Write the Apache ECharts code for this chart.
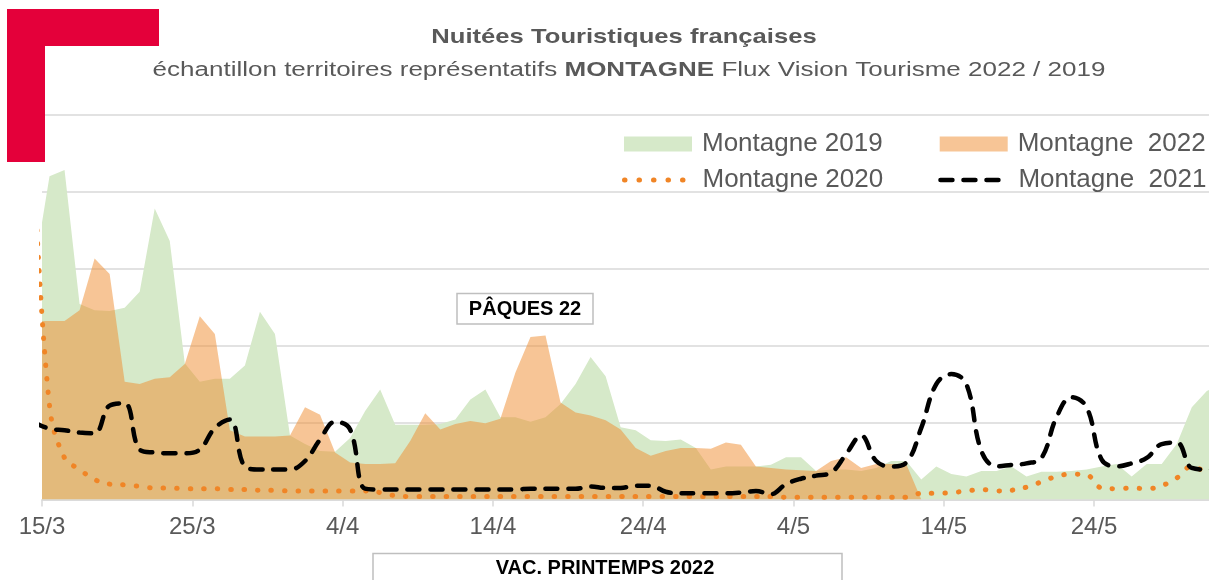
<!DOCTYPE html>
<html>
<head>
<meta charset="utf-8">
<script src="https://cdn.jsdelivr.net/npm/echarts@6/dist/echarts.min.js"></script>
<style>
  html, body { margin: 0; padding: 0; background: #fff; }
  #chart { width: 1209px; height: 580px; }
</style>
</head>
<body>
<div id="chart"></div>
<script>
// axis labels, one every 10 days starting 15/3
var tickLabels = ['15/3', '25/3', '4/4', '14/4', '24/4', '4/5', '14/5', '24/5'];

// daily values, 14/3 -> 1/6 (one point per day, plotted at midday)
var m2019 = [3.00, 4.20, 4.28, 2.54, 2.46, 2.45, 2.49, 2.70, 3.78, 3.36,
  1.77, 1.53, 1.57, 1.57, 1.74, 2.44, 2.15, 0.83, 0.72, 0.63,
  0.62, 0.80, 1.15, 1.43, 0.97, 0.97, 0.97, 0.98, 1.04, 1.30,
  1.43, 1.07, 1.07, 1.01, 1.07, 1.24, 1.50, 1.85, 1.60, 0.94,
  0.90, 0.77, 0.76, 0.78, 0.67, 0.39, 0.43, 0.43, 0.43, 0.45,
  0.55, 0.55, 0.37, 0.39, 0.39, 0.37, 0.41, 0.50, 0.50, 0.26,
  0.43, 0.33, 0.30, 0.37, 0.37, 0.43, 0.30, 0.36, 0.36, 0.37,
  0.39, 0.43, 0.46, 0.30, 0.46, 0.46, 0.72, 1.20, 1.41, 1.50];

var m2022 = [2.32, 2.32, 2.32, 2.46, 3.13, 2.93, 1.53, 1.50, 1.57, 1.59,
  1.76, 2.38, 2.15, 0.90, 0.82, 0.82, 0.82, 0.83, 1.20, 1.10,
  0.61, 0.48, 0.46, 0.46, 0.47, 0.76, 1.12, 0.91, 0.98, 1.02,
  0.99, 1.05, 1.65, 2.11, 2.13, 1.26, 1.13, 1.09, 1.03, 0.91,
  0.67, 0.57, 0.63, 0.67, 0.67, 0.66, 0.74, 0.71, 0.43, 0.41,
  0.39, 0.38, 0.37, 0.50, 0.55, 0.41, 0.46, 0.46, 0.46, 0,
  null, null, null, null, null, null, null, null, null, null,
  null, null, null, null, null, null, null, null, null, null];

var m2020 = [4.20, 1.22, 0.54, 0.39, 0.26, 0.20, 0.19, 0.17, 0.15, 0.15,
  0.14, 0.14, 0.14, 0.13, 0.13, 0.12, 0.12, 0.11, 0.11, 0.11,
  0.11, 0.11, 0.11, 0.09, 0.05, 0.04, 0.04, 0.04, 0.04, 0.04,
  0.04, 0.04, 0.04, 0.04, 0.04, 0.04, 0.04, 0.04, 0.04, 0.04,
  0.04, 0.04, 0.04, 0.04, 0.04, 0.04, 0.04, 0.04, 0.04, 0.04,
  0.03, 0.03, 0.03, 0.03, 0.03, 0.03, 0.03, 0.03, 0.03, 0.08,
  0.08, 0.09, 0.11, 0.13, 0.11, 0.12, 0.16, 0.23, 0.30, 0.33,
  0.32, 0.15, 0.14, 0.15, 0.14, 0.18, 0.28, 0.43, 0.37, 0.37];

var m2021 = [1.00, 0.92, 0.90, 0.87, 0.86, 1.22, 1.25, 0.65, 0.61, 0.60,
  0.60, 0.65, 0.93, 1.04, 0.43, 0.39, 0.39, 0.39, 0.50, 0.78,
  1.01, 0.91, 0.14, 0.13, 0.13, 0.13, 0.13, 0.13, 0.13, 0.13,
  0.13, 0.13, 0.13, 0.14, 0.14, 0.14, 0.14, 0.17, 0.15, 0.15,
  0.18, 0.18, 0.10, 0.08, 0.08, 0.08, 0.08, 0.09, 0.11, 0.07,
  0.20, 0.27, 0.31, 0.35, 0.59, 0.83, 0.50, 0.43, 0.48, 0.93,
  1.50, 1.63, 1.50, 0.63, 0.43, 0.45, 0.47, 0.54, 1.07, 1.33,
  1.20, 0.52, 0.43, 0.47, 0.54, 0.72, 0.74, 0.41, 0.39, 0.39];

var FONT = '"Liberation Sans", Arial, sans-serif';
var GREEN = '#d6e9c9';
var ORANGE = 'rgba(240,140,45,0.5)';
var DOTS = '#f08526';

// x = days since 15/3 00:00, points sit at midday
function pts(arr) {
  return arr.map(function (v, i) { return [i - 0.5, v]; });
}

var myChart = echarts.init(document.getElementById('chart'));

var option = {
  animation: false,
  grid: { left: 42, right: 0, top: 114.7, bottom: 80.5, outerBoundsMode: 'none' },
  legend: [
    {
      left: 624, top: 131, width: 600, padding: 0, orient: 'horizontal',
      itemWidth: 68, itemHeight: 15, itemGap: 57,
      textStyle: { fontFamily: FONT, fontSize: 26, color: '#595959', padding: [0, 0, 0, 5] },
      data: [
        { name: 'Montagne 2019', icon: 'rect', itemStyle: { borderWidth: 0 } },
        { name: 'Montagne  2022', icon: 'rect', itemStyle: { borderWidth: 0 } }
      ]
    },
    {
      left: 622, top: 167, width: 600, padding: 0, orient: 'horizontal',
      itemWidth: 62, itemHeight: 15, itemGap: 55,
      textStyle: { fontFamily: FONT, fontSize: 26, color: '#595959', padding: [0, 0, 0, 11] },
      data: [
        { name: 'Montagne 2020', itemStyle: { opacity: 0 },
          lineStyle: { color: DOTS, width: 5, type: [0.5, 14], cap: 'round' } },
        { name: 'Montagne  2021', itemStyle: { opacity: 0 },
          lineStyle: { color: '#000', width: 4.5, type: [12, 11], cap: 'round' } }
      ]
    }
  ],
  xAxis: {
    type: 'value',
    min: 0,
    max: 1167 / 15.03,
    interval: 10,
    axisLine: { lineStyle: { color: '#d9d9d9', width: 1.5 } },
    axisTick: {
      length: 7, lineStyle: { color: '#d9d9d9', width: 1.5 },
      customValues: tickLabels.map(function (_, i) { return i * 10; })
    },
    axisLabel: {
      margin: 16,
      fontFamily: FONT,
      fontSize: 24,
      color: '#595959',
      customValues: tickLabels.map(function (_, i) { return i * 10; }),
      formatter: function (v) { return tickLabels[Math.round(v / 10)] || ''; }
    },
    splitLine: { show: false }
  },
  yAxis: {
    type: 'value',
    min: 0,
    max: 5,
    interval: 1,
    axisLine: { show: false },
    axisTick: { show: false },
    axisLabel: { show: false },
    splitLine: { lineStyle: { color: '#d9d9d9', width: 1.5 } }
  },
  series: [
    {
      name: 'Montagne 2019', type: 'line', data: pts(m2019),
      color: GREEN, symbol: 'none', lineStyle: { width: 0 },
      areaStyle: { color: GREEN, opacity: 1 }
    },
    {
      name: 'Montagne  2022', type: 'line', data: pts(m2022),
      color: ORANGE, symbol: 'none', lineStyle: { width: 0 },
      areaStyle: { color: ORANGE, opacity: 1 }
    },
    {
      name: 'Montagne 2020', type: 'line', data: pts(m2020),
      color: DOTS, symbol: 'none', smooth: 0.4,
      lineStyle: { color: DOTS, width: 5, type: [0.5, 13], cap: 'round' }
    },
    {
      name: 'Montagne  2021', type: 'line', data: pts(m2021),
      color: '#000', symbol: 'none', smooth: 0.4,
      lineStyle: { color: '#000', width: 4.5, type: [12, 11], cap: 'round' }
    }
  ],
  graphic: [
    {
      type: 'polygon', z: 10,
      shape: { points: [[7, 9], [159, 9], [159, 46], [45, 46], [45, 162], [7, 162]] },
      style: { fill: '#e4003a' }
    },
    {
      type: 'text', x: 624, y: 37, scaleX: 1.22,
      style: {
        text: 'Nuitées Touristiques françaises',
        font: 'bold 21px ' + FONT, fill: '#595959',
        align: 'center', verticalAlign: 'middle', textAlign: 'center', textVerticalAlign: 'middle'
      }
    },
    {
      type: 'text', x: 629, y: 70, scaleX: 1.3,
      style: {
        text: '{n|échantillon territoires représentatifs }{b|MONTAGNE}{n| Flux Vision Tourisme 2022 / 2019}',
        align: 'center', verticalAlign: 'middle', textAlign: 'center', textVerticalAlign: 'middle',
        rich: {
          n: { fontSize: 20, fontFamily: FONT, fill: '#595959' },
          b: { fontSize: 20, fontFamily: FONT, fontWeight: 'bold', fill: '#595959' }
        }
      }
    },
    {
      type: 'rect', z: 10,
      shape: { x: 457, y: 293.5, width: 136, height: 30.5 },
      style: { fill: '#fff', stroke: '#bfbfbf', lineWidth: 1.5 }
    },
    {
      type: 'text', z: 11, x: 525, y: 309.5,
      style: {
        text: 'PÂQUES 22', font: 'bold 20px ' + FONT, fill: '#000',
        align: 'center', verticalAlign: 'middle', textAlign: 'center', textVerticalAlign: 'middle'
      }
    },
    {
      type: 'rect', z: 10,
      shape: { x: 373, y: 553.5, width: 469, height: 40 },
      style: { fill: '#fff', stroke: '#bfbfbf', lineWidth: 1.5 }
    },
    {
      type: 'text', z: 11, x: 605, y: 568.5,
      style: {
        text: 'VAC. PRINTEMPS 2022', font: 'bold 20px ' + FONT, fill: '#000',
        align: 'center', verticalAlign: 'middle', textAlign: 'center', textVerticalAlign: 'middle'
      }
    }
  ]
};

myChart.setOption(option);
</script>
</body>
</html>
